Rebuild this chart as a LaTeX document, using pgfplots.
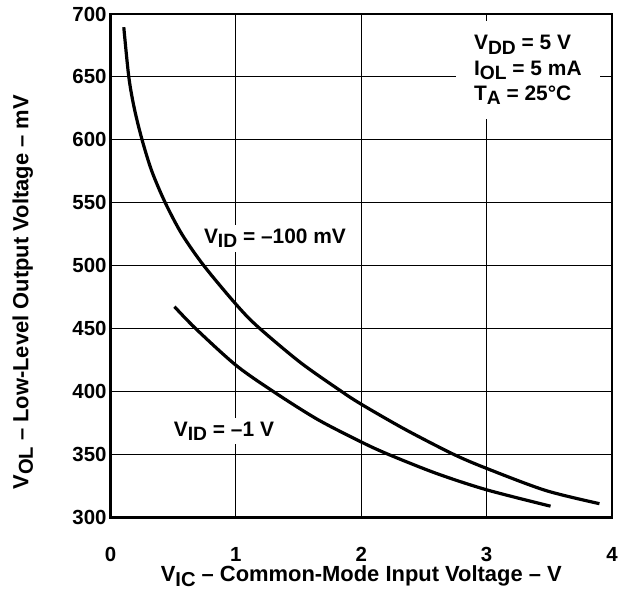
\documentclass[border=0pt]{standalone}
\usepackage{pgfplots}
\pgfplotsset{compat=1.18}
\usepackage{fontspec}
\setmainfont{Liberation Sans}

% subscript in the TI style: nearly full size, lowered
\newcommand{\sub}[1]{\raisebox{-0.4ex}{\scalebox{0.92}{#1}}}

\begin{document}
\begin{tikzpicture}
\begin{axis}[
    name=ax,
    at={(0,0)}, anchor=south west,
    scale only axis,
    width=501.5bp, height=503.5bp,
    xmin=0, xmax=4,
    ymin=300, ymax=700,
    xtick={0,1,2,3,4},
    ytick={300,350,...,700},
    grid=major,
    major grid style={black, line width=0.9bp},
    axis line style={line width=2.6bp},
    major tick length=0pt,
    /pgf/number format/assume math mode=true,
    tick label style={font=\fontsize{20.5}{20.5}\selectfont\bfseries},
    xticklabel style={yshift=-26bp},
    yticklabel style={xshift=-0.5bp},
    label style={font=\fontsize{22}{22}\selectfont\bfseries},
    xlabel={V\sub{IC} -- Common-Mode Input Voltage -- V},
    ylabel={V\sub{OL} -- Low-Level Output Voltage -- mV},
    xlabel style={at={(axis description cs:0.5,-0.117)}, anchor=center},
    ylabel style={at={(axis description cs:-0.175,0.447)}, anchor=center},
]
% V_ID = -100 mV
\addplot[black, line width=3.2bp, smooth] coordinates {
    (0.106,689.5) (0.146,650) (0.19,625) (0.252,600) (0.33,575)
    (0.437,550) (0.57,525) (0.745,500) (1.0,469.5) (1.17,452)
    (1.51,423.5) (1.83,401) (2.0,390) (2.35,370) (2.73,350.5)
    (3.0,339) (3.47,321.5) (3.9,311)
};
% V_ID = -1 V
\addplot[black, line width=3.2bp, smooth] coordinates {
    (0.51,467.5) (0.68,450) (1.0,421) (1.3,400) (1.65,378)
    (2.0,360) (2.22,350) (2.6,335) (3.0,322) (3.51,309)
};
\node[fill=white, font=\fontsize{21}{21}\selectfont\bfseries, inner xsep=6bp, inner ysep=4bp]
    at (axis cs:1.312,522) {V\sub{ID} = --100 mV};
\node[fill=white, font=\fontsize{21}{21}\selectfont\bfseries, inner xsep=4bp, inner ysep=4bp]
    at (axis cs:0.905,368.7) {V\sub{ID} = --1 V};
\node[fill=white, anchor=north west, align=left, inner xsep=18bp, inner ysep=14bp,
      font=\fontsize{21}{25.5}\selectfont\bfseries]
    at (axis cs:2.755,694.4) {V\sub{DD} = 5 V\\I\sub{OL} = 5 mA\\T\sub{A} = 25\textdegree C};
\end{axis}
\pgfresetboundingbox
\path[use as bounding box] (-110.5bp,-72.5bp) rectangle (517.5bp,517.5bp);
\end{tikzpicture}
\end{document}
